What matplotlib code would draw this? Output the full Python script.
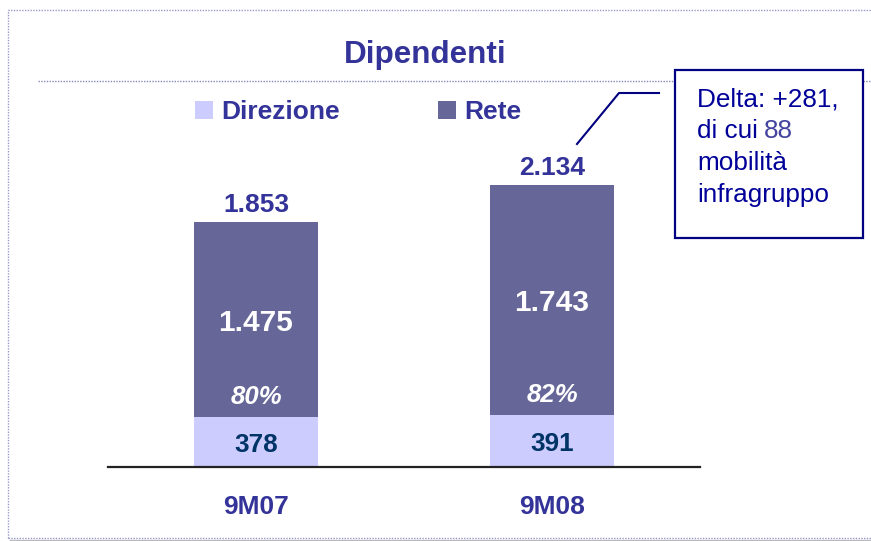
import numpy as np
import matplotlib
matplotlib.use('Agg')
import matplotlib.pyplot as plt
from matplotlib.patches import Rectangle
from matplotlib.lines import Line2D
from matplotlib.text import Annotation

plt.rcParams['font.family'] = ['Liberation Sans', 'DejaVu Sans']

# data
categories = ['9M07', '9M08']
direzione = [378, 391]
rete = [1475, 1743]
mobilita = 88

TITLE_COL = '#333399'
RETE_COL = '#666699'
DIR_COL = '#CCCCFF'
BOX_COL = '#000080'

W, H = 871, 541


def fx(px):
    return px / W


def fy(py):
    return 1 - py / H


def fmt(v):
    return f"{v:,}".replace(',', '.')


totals = [d + r for d, r in zip(direzione, rete)]

fig = plt.figure(figsize=(W / 100, H / 100), dpi=100)

# slide frame and title rule
dots = (0, (1, 1))
fig.add_artist(Line2D([fx(8), fx(8), fx(871)], [fy(538), fy(10), fy(10)],
                      color='#9999cc', lw=1, ls=dots))
fig.add_artist(Line2D([fx(8), fx(871)], [fy(538), fy(538)],
                      color='#9999cc', lw=1, ls=dots))
fig.add_artist(Line2D([fx(10), fx(871)], [fy(540), fy(540)],
                      color='#bbbbbb', lw=1))
fig.add_artist(Line2D([fx(38), fx(871)], [fy(81), fy(81)],
                      color='#8888bb', lw=1, ls=dots))

fig.text(fx(425), fy(63), 'Dipendenti', ha='center', va='baseline',
         fontsize=22.6, fontweight='bold', color=TITLE_COL)

# bars
px_per_unit = 0.132
ax = fig.add_axes([fx(108), fy(467), 592 / W, (467 - 84) / H])
ax.set_xlim(-0.5, 1.5)
ax.set_ylim(0, 383 / px_per_unit)

x = np.arange(len(categories))
bw = 124 / 296
b1 = ax.bar(x, direzione, width=bw, color=DIR_COL, label='Direzione')
b2 = ax.bar(x, rete, bottom=direzione, width=bw, color=RETE_COL, label='Rete')

for s in ['top', 'left', 'right']:
    ax.spines[s].set_visible(False)
ax.spines['bottom'].set_color('#222222')
ax.spines['bottom'].set_linewidth(1.6)
ax.set_yticks([])
ax.set_xticks(x, categories)
ax.tick_params(axis='x', length=0, pad=20)
for lab in ax.get_xticklabels():
    lab.set_fontsize(19)
    lab.set_fontweight('bold')
    lab.set_color(TITLE_COL)

for i in range(len(categories)):
    d, r, t = direzione[i], rete[i], totals[i]
    ax.text(i, d / 2, fmt(d), ha='center', va='center_baseline',
            fontsize=18.8, fontweight='bold', color='#003366')
    ax.text(i, d + r / 2, fmt(r), ha='center', va='center_baseline',
            fontsize=21.5, fontweight='bold', color='white')
    ax.annotate(f"{round(100 * r / t)}%", xy=(i, d), xytext=(0, 16.5),
                textcoords='offset points', ha='center', va='center_baseline',
                fontsize=18.5, fontweight='bold', fontstyle='italic', color='white')
    ax.annotate(fmt(t), xy=(i, t), xytext=(0, 7.5), textcoords='offset points',
                ha='center', va='baseline', fontsize=19, fontweight='bold',
                color=TITLE_COL)

ax.legend(handles=[b1, b2], loc='upper left', bbox_to_anchor=(fx(195), fy(100)),
          bbox_transform=fig.transFigure, frameon=False, ncol=2,
          borderaxespad=0, borderpad=0, handlelength=0.7, handleheight=0.7,
          handletextpad=0.3, columnspacing=3.7, labelcolor=TITLE_COL,
          prop={'size': 19, 'weight': 'bold'})

# callout
fig.add_artist(Line2D([fx(577), fx(619), fx(659)], [fy(144), fy(93), fy(93)],
                      color=BOX_COL, lw=1.5))
fig.add_artist(Rectangle((fx(675), fy(238)), (863 - 675) / W, (238 - 70) / H,
                         transform=fig.transFigure, facecolor='white',
                         edgecolor=BOX_COL, lw=1.6, zorder=2))

lines = [f"Delta: +{totals[1] - totals[0]},", "di cui", "mobilità", "infragruppo"]
txts = []
for k, s in enumerate(lines):
    txts.append(fig.text(fx(697), fy(106 + k * 32), s, ha='left', va='baseline',
                         fontsize=18.8, color='#000099', zorder=3))

# "88" in a lighter blue right after "di cui"
fig.add_artist(Annotation(str(mobilita), xy=(1, 0), xycoords=txts[1],
                          xytext=(4, 0), textcoords='offset points',
                          ha='left', va='bottom', fontsize=18.8,
                          color='#4444a0', zorder=3))

fig.savefig('out.png', dpi=100)
